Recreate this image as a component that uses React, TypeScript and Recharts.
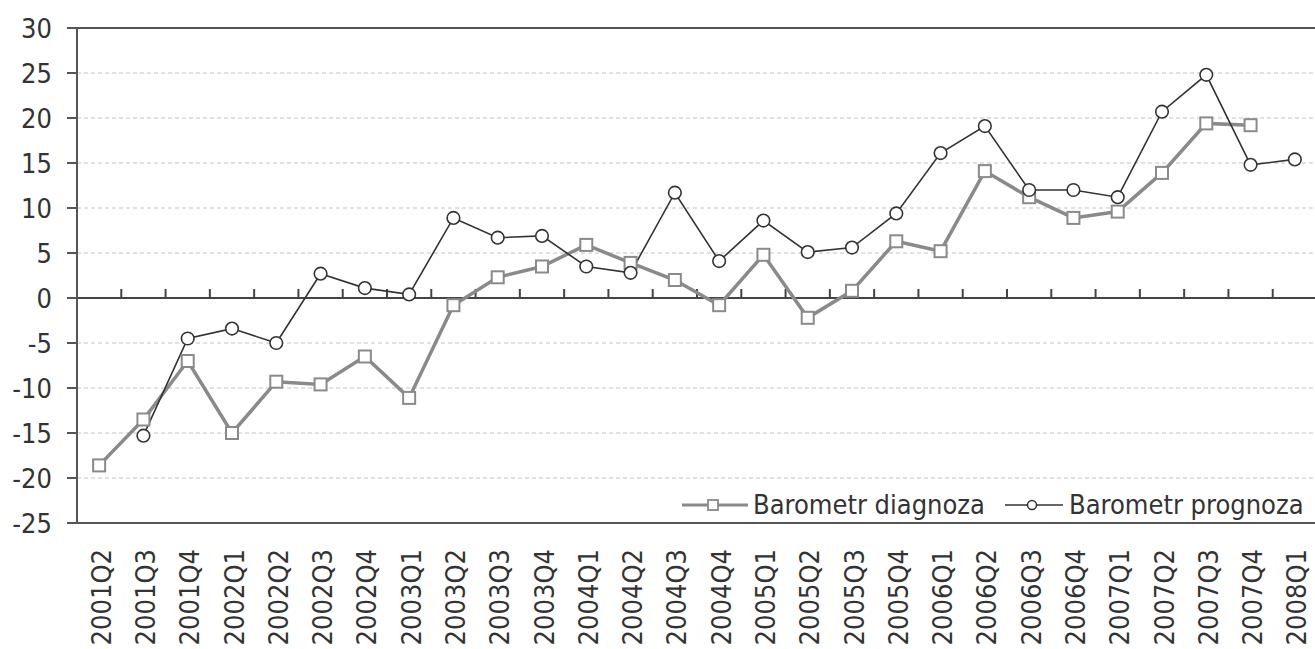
import React from 'react';
import {
  LineChart,
  Line,
  XAxis,
  YAxis,
  CartesianGrid,
  ReferenceLine,
  Legend,
} from 'recharts';

const categories = [
  '2001Q2', '2001Q3', '2001Q4', '2002Q1', '2002Q2', '2002Q3', '2002Q4',
  '2003Q1', '2003Q2', '2003Q3', '2003Q4', '2004Q1', '2004Q2', '2004Q3',
  '2004Q4', '2005Q1', '2005Q2', '2005Q3', '2005Q4', '2006Q1', '2006Q2',
  '2006Q3', '2006Q4', '2007Q1', '2007Q2', '2007Q3', '2007Q4', '2008Q1',
];

const diagnoza: (number | null)[] = [
  -18.6, -13.5, -7.0, -15.0, -9.3, -9.6, -6.5, -11.1, -0.8, 2.3, 3.5, 5.9,
  3.9, 2.0, -0.8, 4.8, -2.2, 0.8, 6.3, 5.2, 14.1, 11.2, 8.9, 9.6, 13.9, 19.4,
  19.2, null,
];

const prognoza: (number | null)[] = [
  null, -15.3, -4.5, -3.4, -5.0, 2.7, 1.1, 0.4, 8.9, 6.7, 6.9, 3.5, 2.8, 11.7,
  4.1, 8.6, 5.1, 5.6, 9.4, 16.1, 19.1, 12.0, 12.0, 11.2, 20.7, 24.8, 14.8,
  15.4,
];

const yTicks = [-25, -20, -15, -10, -5, 0, 5, 10, 15, 20, 25, 30];

const seriesNames = ['Barometr diagnoza', 'Barometr prognoza'];

const data = categories.map((c, i) => ({
  pos: i + 0.5,
  name: c,
  diagnoza: diagnoza[i],
  prognoza: prognoza[i],
}));

const boundaries = categories.slice(1).map((_, i) => i + 1);

const FONT = '"DejaVu Sans Condensed", "DejaVu Sans", Verdana, sans-serif';
const FS = 27;
const TEXT = '#333333';
const DIAG = '#8a8a8a';
const PROG = '#333333';
const AXIS = '#555555';

const SquareDot = (props: any) => {
  const { cx, cy, value } = props;
  if (value == null || cx == null || cy == null) return null;
  const s = 12;
  return (
    <rect
      x={cx - s / 2}
      y={cy - s / 2}
      width={s}
      height={s}
      fill="#ffffff"
      stroke={DIAG}
      strokeWidth={2}
    />
  );
};

const CircleDot = (props: any) => {
  const { cx, cy, value } = props;
  if (value == null || cx == null || cy == null) return null;
  return <circle cx={cx} cy={cy} r={6.3} fill="#ffffff" stroke={PROG} strokeWidth={1.6} />;
};

const XTick = (props: any) => {
  const { x, payload } = props;
  const label = categories[Math.floor(payload.value)];
  const tx = x + 2;
  const ty = 549;
  return (
    <text
      x={tx}
      y={ty}
      transform={`rotate(-90, ${tx}, ${ty})`}
      textAnchor="end"
      dominantBaseline="central"
      fontFamily={FONT}
      fontSize={FS}
      fill={TEXT}
    >
      {label}
    </text>
  );
};

const LegendContent = () => (
  <div
    style={{
      display: 'flex',
      alignItems: 'center',
      fontFamily: FONT,
      fontSize: FS,
      color: TEXT,
      whiteSpace: 'nowrap',
      lineHeight: '30px',
      height: 30,
    }}
  >
    <svg width={66} height={20} style={{ marginRight: 5 }}>
      <line x1={0} y1={10} x2={66} y2={10} stroke={DIAG} strokeWidth={3} />
      <rect x={26} y={5} width={10} height={10} fill="#fff" stroke={DIAG} strokeWidth={1.8} />
    </svg>
    <span style={{ marginRight: 20 }}>{seriesNames[0]}</span>
    <svg width={58} height={20} style={{ marginRight: 6 }}>
      <line x1={0} y1={10} x2={58} y2={10} stroke={PROG} strokeWidth={1.6} />
      <circle cx={27} cy={10} r={4.5} fill="#fff" stroke={PROG} strokeWidth={1.5} />
    </svg>
    <span>{seriesNames[1]}</span>
  </div>
);

export default function App() {
  return (
    <div
      style={{
        position: 'absolute',
        left: 0,
        top: 0,
        width: 1315,
        height: 649,
        overflow: 'hidden',
        background: '#ffffff',
      }}
    >
      <LineChart
        width={1320}
        height={649}
        data={data}
        margin={{ top: 28, right: 3, bottom: 0, left: 0 }}
      >
        <CartesianGrid
          horizontal
          vertical={false}
          stroke="#c4c4c4"
          strokeDasharray="4 3"
        />
        <XAxis
          dataKey="pos"
          type="number"
          domain={[0, 28]}
          ticks={data.map((d) => d.pos)}
          interval={0}
          axisLine={false}
          tickLine={false}
          height={126}
          tick={<XTick />}
        />
        <YAxis
          type="number"
          domain={[-25, 30]}
          ticks={yTicks}
          interval={0}
          width={77}
          axisLine={{ stroke: AXIS, strokeWidth: 2 }}
          tickLine={{ stroke: AXIS, strokeWidth: 2 }}
          tickSize={10}
          tickMargin={15}
          tick={{ fontFamily: FONT, fontSize: FS, fill: TEXT }}
        />
        <ReferenceLine y={30} stroke={AXIS} strokeWidth={2} />
        <ReferenceLine y={-25} stroke={AXIS} strokeWidth={2} />
        <ReferenceLine y={0} stroke="#444444" strokeWidth={2} />
        {boundaries.map((b) => (
          <ReferenceLine
            key={b}
            segment={[
              { x: b, y: 0 },
              { x: b, y: 1 },
            ]}
            stroke="#444444"
            strokeWidth={2}
          />
        ))}
        <Legend
          layout="vertical"
          align="center"
          verticalAlign="middle"
          content={<LegendContent />}
          wrapperStyle={{ position: 'absolute', left: 682, top: 490, width: 'auto' }}
        />
        <Line
          dataKey="diagnoza"
          name={seriesNames[0]}
          stroke={DIAG}
          strokeWidth={3.5}
          dot={<SquareDot />}
          activeDot={false}
          isAnimationActive={false}
          connectNulls={false}
        />
        <Line
          dataKey="prognoza"
          name={seriesNames[1]}
          stroke={PROG}
          strokeWidth={1.6}
          dot={<CircleDot />}
          activeDot={false}
          isAnimationActive={false}
          connectNulls={false}
        />
      </LineChart>
    </div>
  );
}
